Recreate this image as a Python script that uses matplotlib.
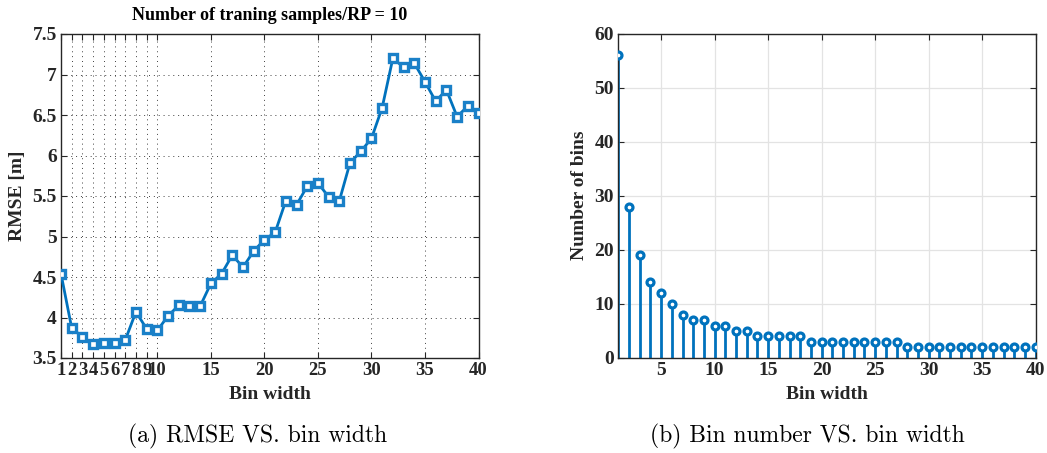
import matplotlib
matplotlib.use("Agg")
import matplotlib.pyplot as plt

# ---------------- data ----------------
bin_width = list(range(1, 41))
rmse = [4.54, 3.87, 3.76, 3.67, 3.68, 3.68, 3.72, 4.07, 3.86, 3.84,
        4.02, 4.15, 4.14, 4.14, 4.42, 4.54, 4.77, 4.62, 4.82, 4.96,
        5.05, 5.44, 5.39, 5.62, 5.66, 5.49, 5.44, 5.91, 6.05, 6.21,
        6.59, 7.20, 7.09, 7.14, 6.91, 6.67, 6.81, 6.48, 6.61, 6.53]
num_bins = [56, 28, 19, 14, 12, 10, 8, 7, 7, 6,
            6, 5, 5, 4, 4, 4, 4, 4, 3, 3,
            3, 3, 3, 3, 3, 3, 3, 2, 2, 2,
            2, 2, 2, 2, 2, 2, 2, 2, 2, 2]
left_xticks = [1, 2, 3, 4, 5, 6, 7, 8, 9, 10, 15, 20, 25, 30, 35, 40]
left_yticks = [3.5, 4, 4.5, 5, 5.5, 6, 6.5, 7, 7.5]
right_xticks = [5, 10, 15, 20, 25, 30, 35, 40]
right_yticks = [0, 10, 20, 30, 40, 50, 60]
title_left = "Number of traning samples/RP = 10"
cap_a = "(a) RMSE VS. bin width"
cap_b = "(b) Bin number VS. bin width"

BLUE = "#0072BD"
DARK = "#262626"
SERIF = ["Liberation Serif", "DejaVu Serif"]
FS = 14

W, H = 1047, 453
fig = plt.figure(figsize=(W / 100, H / 100), dpi=100)

def frac(x0, y0, x1, y1):
    return [x0 / W, 1 - y1 / H, (x1 - x0) / W, (y1 - y0) / H]

axL = fig.add_axes(frac(61, 34, 478.5, 358))
axR = fig.add_axes(frac(618.3, 33.5, 1035.7, 358))

label_font = dict(family=SERIF, weight="bold", size=FS)

for ax in (axL, axR):
    for s in ax.spines.values():
        s.set_color(DARK)
        s.set_linewidth(1.0)
    ax.tick_params(direction="in", top=True, right=True, length=4,
                   width=0.8, color=DARK, labelcolor=DARK, pad=4)
    ax.set_axisbelow(True)

# ---------------- left plot ----------------
axL.plot(bin_width, rmse, color=BLUE, lw=2.0, marker="s", ms=5.5,
         mfc="white", mec="#1a80c8", mew=2.4, zorder=3)
axL.set_xlim(1, 40)
axL.set_ylim(3.5, 7.5)
axL.set_xticks(left_xticks)
axL.set_xticklabels([str(t) for t in left_xticks])
axL.set_yticks(left_yticks)
axL.set_yticklabels(["3.5", "4", "4.5", "5", "5.5", "6", "6.5", "7", "7.5"])
axL.grid(True, linestyle=(0, (1, 4)), color="0.25", linewidth=0.7)
for lab in axL.get_xticklabels():
    lab.set_fontfamily(SERIF)
    lab.set_fontweight("bold")
    lab.set_fontsize(13.4)
for lab in axL.get_yticklabels():
    lab.set_fontfamily(SERIF)
    lab.set_fontweight("bold")
    lab.set_fontsize(FS)
axL.tick_params(axis="x", pad=3)
axL.tick_params(axis="y", pad=3)
axL.set_xlabel("Bin width", **label_font, color=DARK)
axL.set_ylabel("RMSE [m]", **label_font, color=DARK)
axL.xaxis.set_label_coords(0.5, (358 - 386) / 324)
axL.yaxis.set_label_coords((26 - 61) / 417.5, 0.5)
axL.set_title(title_left, family=SERIF, weight="bold", size=13,
              color="black", pad=10)

# ---------------- right plot ----------------
ml, sl, bl = axR.stem(bin_width, num_bins, basefmt=" ")
plt.setp(sl, color=BLUE, linewidth=2.0)
plt.setp(ml, color=BLUE, marker="o", markersize=5.0, mfc="white",
         mec=BLUE, mew=2.3, zorder=3)
axR.set_xlim(1, 40)
axR.set_ylim(0, 60)
axR.set_xticks(right_xticks)
axR.set_yticks(right_yticks)
axR.grid(True, color="#e3e3e3", linewidth=0.9)
for lab in axR.get_xticklabels() + axR.get_yticklabels():
    lab.set_fontfamily(SERIF)
    lab.set_fontweight("bold")
    lab.set_fontsize(FS)
axR.tick_params(axis="x", pad=3)
axR.tick_params(axis="y", pad=3)
axR.set_xlabel("Bin width", **label_font, color=DARK)
axR.set_ylabel("Number of bins", **label_font, color=DARK)
axR.xaxis.set_label_coords(0.5, (358 - 386) / 324)
axR.yaxis.set_label_coords((588 - 618.3) / 417.4, 0.5)

# ---------------- captions ----------------
fig.text(258 / W, 1 - 436 / H, cap_a, family=["cmr10", "DejaVu Serif"],
         size=17, ha="center", va="center")
fig.text(807 / W, 1 - 436 / H, cap_b, family=["cmr10", "DejaVu Serif"],
         size=17, ha="center", va="center")

fig.savefig("out.png", dpi=100)
